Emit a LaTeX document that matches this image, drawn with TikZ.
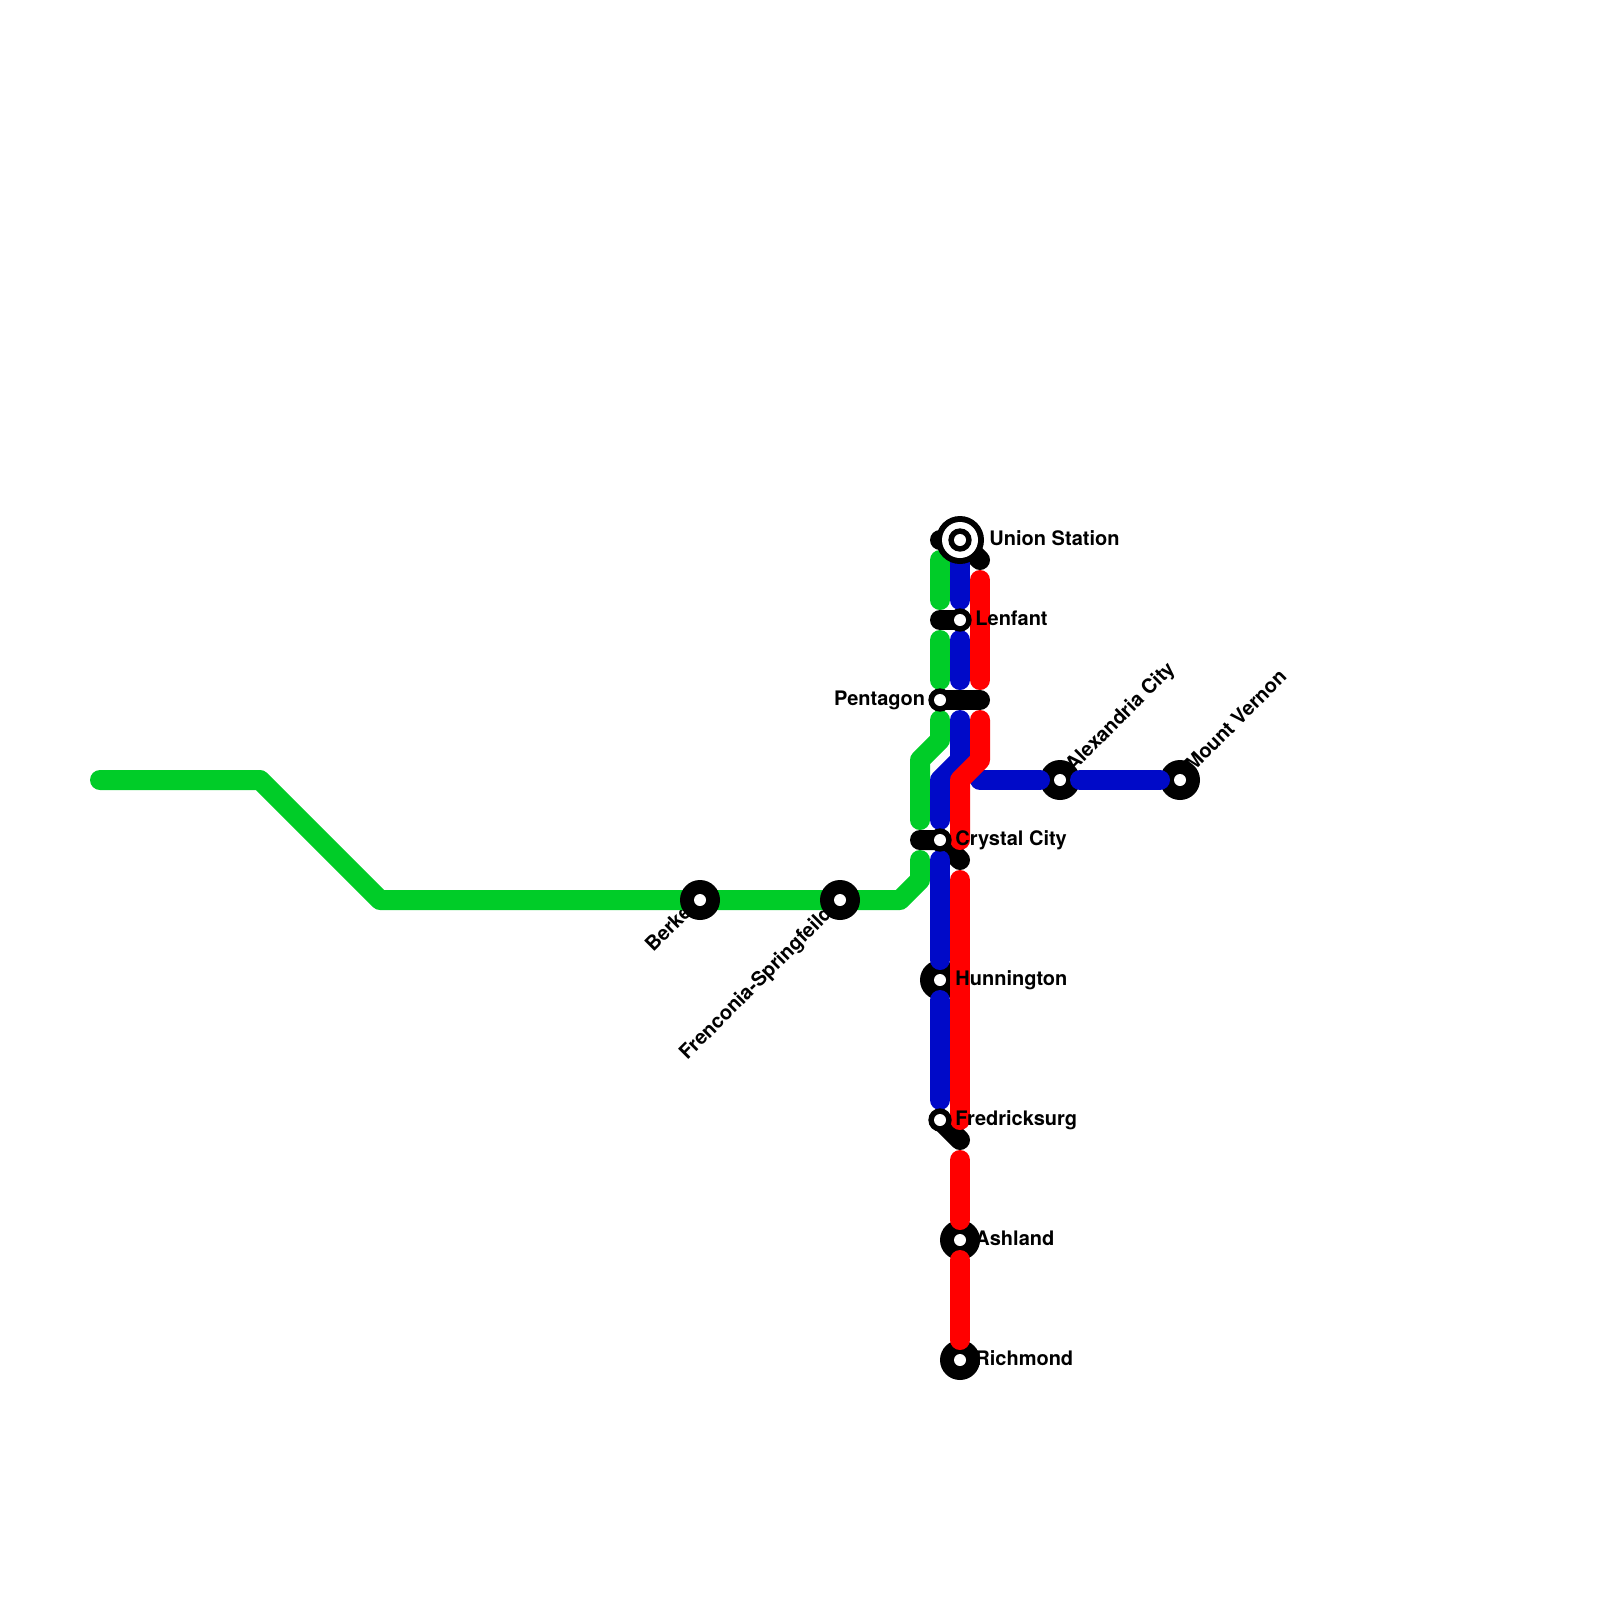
\documentclass[tikz,border=0pt]{standalone}
\usepackage{fontspec}
\setmainfont{TeX Gyre Heros}
\tikzset{
 x=0.5pt,y=-0.5pt,
 seg/.style={line width=10pt,line cap=round,line join=round},
 green/.style={seg,draw={rgb,255:red,0;green,204;blue,40}},
 blue/.style={seg,draw={rgb,255:red,0;green,10;blue,200}},
 red/.style={seg,draw={rgb,255:red,255;green,0;blue,0}},
 blk/.style={seg,draw=black},
 bigdisc/.style={circle,fill=black,minimum size=20pt,inner sep=0pt},
 ringd/.style={circle,fill=black,minimum size=11.7pt,inner sep=0pt},
 dot/.style={circle,fill=white,minimum size=6pt,inner sep=0pt},
 lab/.style={font=\fontsize{10}{10}\selectfont\bfseries,inner sep=0pt,text=black}
}
\begin{document}
\begin{tikzpicture}
\useasboundingbox (0,0) rectangle (1600,1600);
\coordinate (u) at (960,540); \coordinate (le) at (960,620); \coordinate (pe) at (940,700);
\coordinate (cc) at (940,840); \coordinate (hu) at (940,980); \coordinate (fr) at (940,1120);
\coordinate (as) at (960,1240); \coordinate (ri) at (960,1360); \coordinate (be) at (700,900);
\coordinate (fs) at (840,900); \coordinate (al) at (1060,780); \coordinate (mv) at (1180,780);
% rotated labels beneath the discs
\node[lab,anchor=base west,rotate=45] (lb) at (653,953) {Berke};
\node[lab,anchor=base west,rotate=45] (lf) at (687,1061) {Frenconia-Springfeild};
% black connectors
\draw[blk] (u)++(-20,0) -- (u) -- ++(20,20);
\draw[blk] (le)++(-20,0) -- (le);
\draw[blk] (pe) -- ++(40,0);
\draw[blk] (cc)++(-20,0) -- (cc) -- ++(20,20);
\draw[blk] (fr) -- ++(20,20);
% big discs under the blue and red lines
\node[bigdisc] (dal) at (al) {}; \node[bigdisc] (dmv) at (mv) {};
\node[bigdisc] (dhu) at (hu) {}; \node[bigdisc] (das) at (as) {}; \node[bigdisc] (dri) at (ri) {};
% green
\draw[green] (100,780) -- (260,780) -- (380,900) -- (900,900) -- (920,880) -- (920,860);
\draw[green] (940,560) -- (940,600);
\draw[green] (940,640) -- (940,680);
\draw[green] (940,720) -- (940,740) -- (920,760) -- (920,820);
% discs on the green line
\node[bigdisc] (dbe) at (be) {}; \node[bigdisc] (dfs) at (fs) {};
% blue
\draw[blue] (960,550) -- (960,600);
\draw[blue] (960,640) -- (960,680);
\draw[blue] (960,720) -- (960,760) -- (940,780) -- (940,820);
\draw[blue] (940,860) -- (940,960);
\draw[blue] (940,1000) -- (940,1100);
\draw[blue] (980,780) -- (1040,780);
\draw[blue] (1080,780) -- (1160,780);
% red
\draw[red] (980,580) -- (980,680);
\draw[red] (980,720) -- (980,760) -- (960,780) -- (960,840);
\draw[red] (960,880) -- (960,1120);
\draw[red] (960,1160) -- (960,1220);
\draw[red] (960,1260) -- (960,1340);
% station marks
\node[circle,fill=black,minimum size=24pt,inner sep=0pt] (uo) at (u) {};
\node[circle,fill=white,minimum size=18pt,inner sep=0pt] (um) at (u) {};
\node[ringd] (ui) at (u) {}; \node[dot] (ud) at (u) {};
\node[ringd] (rle) at (le) {}; \node[dot] (dle) at (le) {};
\node[ringd] (rpe) at (pe) {}; \node[dot] (dpe) at (pe) {};
\node[ringd] (rcc) at (cc) {}; \node[dot] (dcc) at (cc) {};
\node[ringd] (rfr) at (fr) {}; \node[dot] (dfr) at (fr) {};
\foreach \c/\n in {hu/a,as/b,ri/c,be/d,fs/e,al/f,mv/g}{\node[dot] (w\n) at (\c) {};}
% labels
\node[lab,anchor=base west] (tu) at (989,545.2) {Union Station};
\node[lab,anchor=base west] (tl) at (975,625.2) {Lenfant};
\node[lab,anchor=base east] (tp) at (925.5,705.2) {Pentagon};
\node[lab,anchor=base west] (tc) at (955,845.2) {Crystal City};
\node[lab,anchor=base west] (th) at (955,985.2) {Hunnington};
\node[lab,anchor=base west] (tf) at (955,1125.2) {Fredricksurg};
\node[lab,anchor=base west] (ta) at (975,1245.2) {Ashland};
\node[lab,anchor=base west] (tr) at (975,1365.2) {Richmond};
\node[lab,anchor=base west,rotate=45] (tal) at (1073,773) {Alexandria City};
\node[lab,anchor=base west,rotate=45] (tmv) at (1193,773) {Mount Vernon};
\end{tikzpicture}
\end{document}
